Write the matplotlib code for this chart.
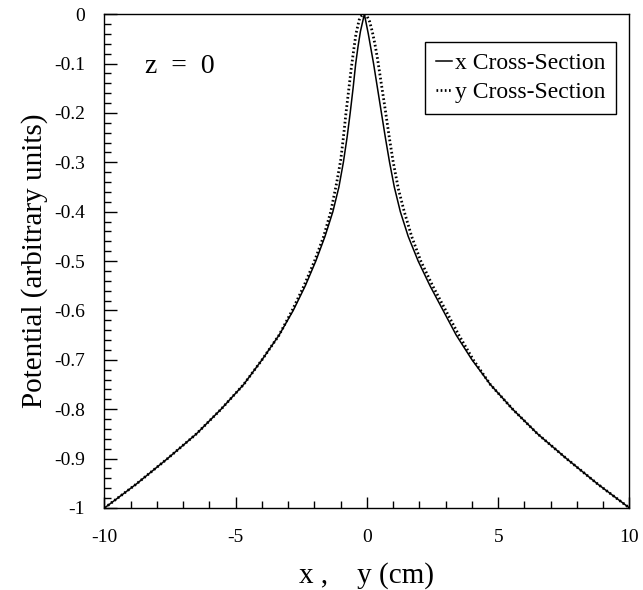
import matplotlib
matplotlib.use("Agg")
import matplotlib.pyplot as plt
from matplotlib.ticker import MultipleLocator

plt.rcParams['font.family'] = ['Liberation Serif', 'DejaVu Serif']
plt.rcParams['axes.unicode_minus'] = False

# x cross-section (solid)
x_cross_pos = [-10, -8.8, -7.6, -6.5, -5.56, -4.7, -4.0, -3.35, -2.81, -2.35, -1.95,
               -1.6, -1.3, -1.07, -0.9, -0.76, -0.64, -0.53, -0.43, -0.34, -0.25, -0.1,
               0.05, 0.25, 0.4, 0.55, 0.7, 0.86, 1.04, 1.27, 1.57, 1.95, 2.4, 2.9, 3.4,
               4.0, 4.7, 5.55, 6.5, 7.6, 8.8, 10]
x_cross_pot = [-1.0, -0.952, -0.9, -0.85, -0.8, -0.75, -0.7, -0.65, -0.6, -0.55, -0.5,
               -0.45, -0.4, -0.35, -0.3, -0.25, -0.2, -0.15, -0.1, -0.065, -0.035, 0.0,
               -0.04, -0.1, -0.15, -0.2, -0.25, -0.3, -0.35, -0.4, -0.45, -0.5, -0.55, -0.6, -0.65,
               -0.7, -0.75, -0.8, -0.85, -0.9, -0.952, -1.0]

# y cross-section (dotted)
y_cross_pos = [-10, -8.8, -7.6, -6.5, -5.56, -4.7, -4.0, -3.35, -2.85, -2.4, -2.0,
               -1.65, -1.38, -1.15, -1.0, -0.9, -0.8, -0.7, -0.6, -0.5, -0.42, -0.3, -0.2, -0.1,
               0.0, 0.1, 0.2, 0.3, 0.4, 0.5, 0.6, 0.7, 0.85, 1.0, 1.2, 1.42, 1.7, 2.05, 2.5,
               3.0, 3.5, 4.05, 4.7, 5.55, 6.5, 7.6, 8.8, 10]
y_cross_pot = [-1.0, -0.952, -0.9, -0.85, -0.8, -0.75, -0.7, -0.65, -0.6, -0.55, -0.5,
               -0.45, -0.4, -0.34, -0.295, -0.25, -0.2, -0.155, -0.11, -0.07, -0.04, -0.012, -0.003, 0.0,
               -0.004, -0.015, -0.035, -0.06, -0.09, -0.125, -0.16, -0.195, -0.25, -0.3, -0.355, -0.4, -0.45, -0.5, -0.55,
               -0.6, -0.65, -0.7, -0.75, -0.8, -0.85, -0.9, -0.952, -1.0]

ytick_vals = [0, -0.1, -0.2, -0.3, -0.4, -0.5, -0.6, -0.7, -0.8, -0.9, -1]
ytick_labels = ["0", "-0.1", "-0.2", "-0.3", "-0.4", "-0.5", "-0.6", "-0.7", "-0.8", "-0.9", "-1"]
xtick_vals = [-10, -5, 0, 5, 10]
xtick_labels = ["-10", "-5", "0", "5", "10"]

fig = plt.figure(figsize=(6.43, 5.9), dpi=100)
ax = fig.add_axes([0.1625, 0.139, 0.8165, 0.837])

ax.plot(x_cross_pos, x_cross_pot, color='black', lw=1.1, label="x Cross-Section")
ax.plot(y_cross_pos, y_cross_pot, color='black', lw=2.0, linestyle=(0, (0.6, 0.9)),
        label="y Cross-Section")

ax.set_xlim(-10, 10)
ax.set_ylim(-1, 0)
ax.set_xticks(xtick_vals)
ax.set_xticklabels(xtick_labels)
ax.set_yticks(ytick_vals)
ax.set_yticklabels(ytick_labels)
ax.xaxis.set_minor_locator(MultipleLocator(1))
ax.yaxis.set_minor_locator(MultipleLocator(0.02))
ax.tick_params(which='both', direction='in', top=False, right=False, labelsize=14, width=1)
ax.tick_params(axis='y', which='major', length=9, pad=14)
ax.tick_params(axis='x', which='major', length=8, pad=15)
ax.tick_params(which='minor', length=5)
for s in ax.spines.values():
    s.set_linewidth(1.0)

ax.set_xlabel("x ,    y (cm)", fontsize=21, labelpad=12)
ax.set_ylabel("Potential (arbitrary units)", fontsize=21, labelpad=4)

ax.text(0.077, 0.893, "z  =  0", transform=ax.transAxes, fontsize=20, va='center', ha='left')

leg = ax.legend(loc='upper right', bbox_to_anchor=(0.974, 0.943), borderaxespad=0,
                fontsize=17, handlelength=0.7, handletextpad=0.1, fancybox=False,
                edgecolor='black', framealpha=1, borderpad=0.45, labelspacing=0.3)
leg.get_frame().set_linewidth(1.0)

plt.savefig("out.png", dpi=100)
